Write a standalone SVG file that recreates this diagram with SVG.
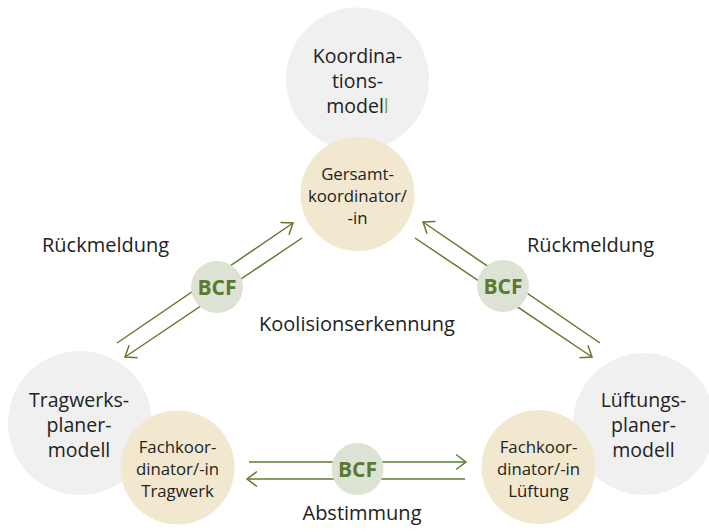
<svg xmlns="http://www.w3.org/2000/svg" width="709" height="532" viewBox="0 0 709 532">
  <style>
    .model { fill: #f0f0f0; }
    .coord { fill: #f2e8cf; }
    .bcf { fill: #dde3d4; }
    .lbl { font-family: "Open Sans", "Noto Sans", sans-serif; fill: #222222; text-anchor: middle; }
    .big { font-size: 19.5px; }
    .small { font-size: 16.8px; }
    .edge { font-size: 20px; }
    .bcftxt { font-family: "Open Sans", "Noto Sans", sans-serif; font-weight: bold; font-size: 21px; fill: #5b7a2f; text-anchor: middle; }
    .arrow { stroke: #5e7d33; stroke-width: 1.5; fill: none; marker-end: url(#chev); }
  </style>
  <defs>
    <marker id="chev" markerUnits="userSpaceOnUse" markerWidth="24" markerHeight="24" refX="0" refY="0" viewBox="-12 -12 24 24" orient="auto" overflow="visible">
      <path d="M-10,-7.5 L0,0 L-10,7.5" fill="none" stroke="#5e7d33" stroke-width="1.5"/>
    </marker>
  </defs>

  <rect width="709" height="532" fill="#ffffff"/>

  <!-- model circles (grey) -->
  <g id="koordinationsmodell">
    <circle class="model" cx="357.5" cy="79" r="71.5"/>
    <text class="lbl big" x="357.5" y="63">Koordina-</text>
    <text class="lbl big" x="357.5" y="88">tions-</text>
    <text class="lbl big" x="357.5" y="113">model<tspan fill="#7f9a55">l</tspan></text>
  </g>
  <g id="tragwerksplanermodell">
    <circle class="model" cx="80" cy="423" r="72"/>
    <text class="lbl big" x="79" y="407">Tragwerks-</text>
    <text class="lbl big" x="79" y="432">planer-</text>
    <text class="lbl big" x="79" y="457">modell</text>
  </g>
  <g id="lueftungsplanermodell">
    <circle class="model" cx="644" cy="424" r="71"/>
    <text class="lbl big" x="643.5" y="407">Lüftungs-</text>
    <text class="lbl big" x="643.5" y="432">planer-</text>
    <text class="lbl big" x="643.5" y="457">modell</text>
  </g>

  <!-- coordinator circles (beige) -->
  <g id="gesamtkoordinator">
    <circle class="coord" cx="357.5" cy="194" r="57"/>
    <text class="lbl small" x="357.5" y="180">Gersamt-</text>
    <text class="lbl small" x="357.5" y="202">koordinator/</text>
    <text class="lbl small" x="357.5" y="224">-in</text>
  </g>
  <g id="fachkoordinator-tragwerk">
    <circle class="coord" cx="177.5" cy="467.5" r="57"/>
    <text class="lbl small" x="177.5" y="453">Fachkoor-</text>
    <text class="lbl small" x="177.5" y="475">dinator/-in</text>
    <text class="lbl small" x="177.5" y="497">Tragwerk</text>
  </g>
  <g id="fachkoordinator-lueftung">
    <circle class="coord" cx="538.5" cy="467" r="57"/>
    <text class="lbl small" x="538.5" y="453">Fachkoor-</text>
    <text class="lbl small" x="538.5" y="475">dinator/-in</text>
    <text class="lbl small" x="538.5" y="497">Lüftung</text>
  </g>

  <!-- connectors -->
  <g id="connectors">
    <line class="arrow" x1="117" y1="343" x2="293" y2="223"/>
    <line class="arrow" x1="302" y1="238" x2="125" y2="357"/>
    <line class="arrow" x1="600" y1="343" x2="423" y2="222"/>
    <line class="arrow" x1="415" y1="238" x2="592" y2="357"/>
    <line class="arrow" x1="249" y1="462" x2="466" y2="462"/>
    <line class="arrow" x1="465" y1="479" x2="247" y2="479"/>
  </g>

  <!-- BCF exchange badges -->
  <g id="bcf-left">
    <circle class="bcf" cx="217" cy="287" r="26"/>
    <text class="bcftxt" x="217" y="295">BCF</text>
  </g>
  <g id="bcf-right">
    <circle class="bcf" cx="503" cy="286" r="26"/>
    <text class="bcftxt" x="503" y="294">BCF</text>
  </g>
  <g id="bcf-bottom">
    <circle class="bcf" cx="357.5" cy="469" r="26"/>
    <text class="bcftxt" x="357.5" y="477">BCF</text>
  </g>

  <!-- edge labels -->
  <g id="labels">
    <text class="lbl edge" x="105.5" y="252">Rückmeldung</text>
    <text class="lbl edge" x="590.5" y="252">Rückmeldung</text>
    <text class="lbl edge" x="357" y="331">Koolisionserkennung</text>
    <text class="lbl edge" x="362" y="520">Abstimmung</text>
  </g>
</svg>
